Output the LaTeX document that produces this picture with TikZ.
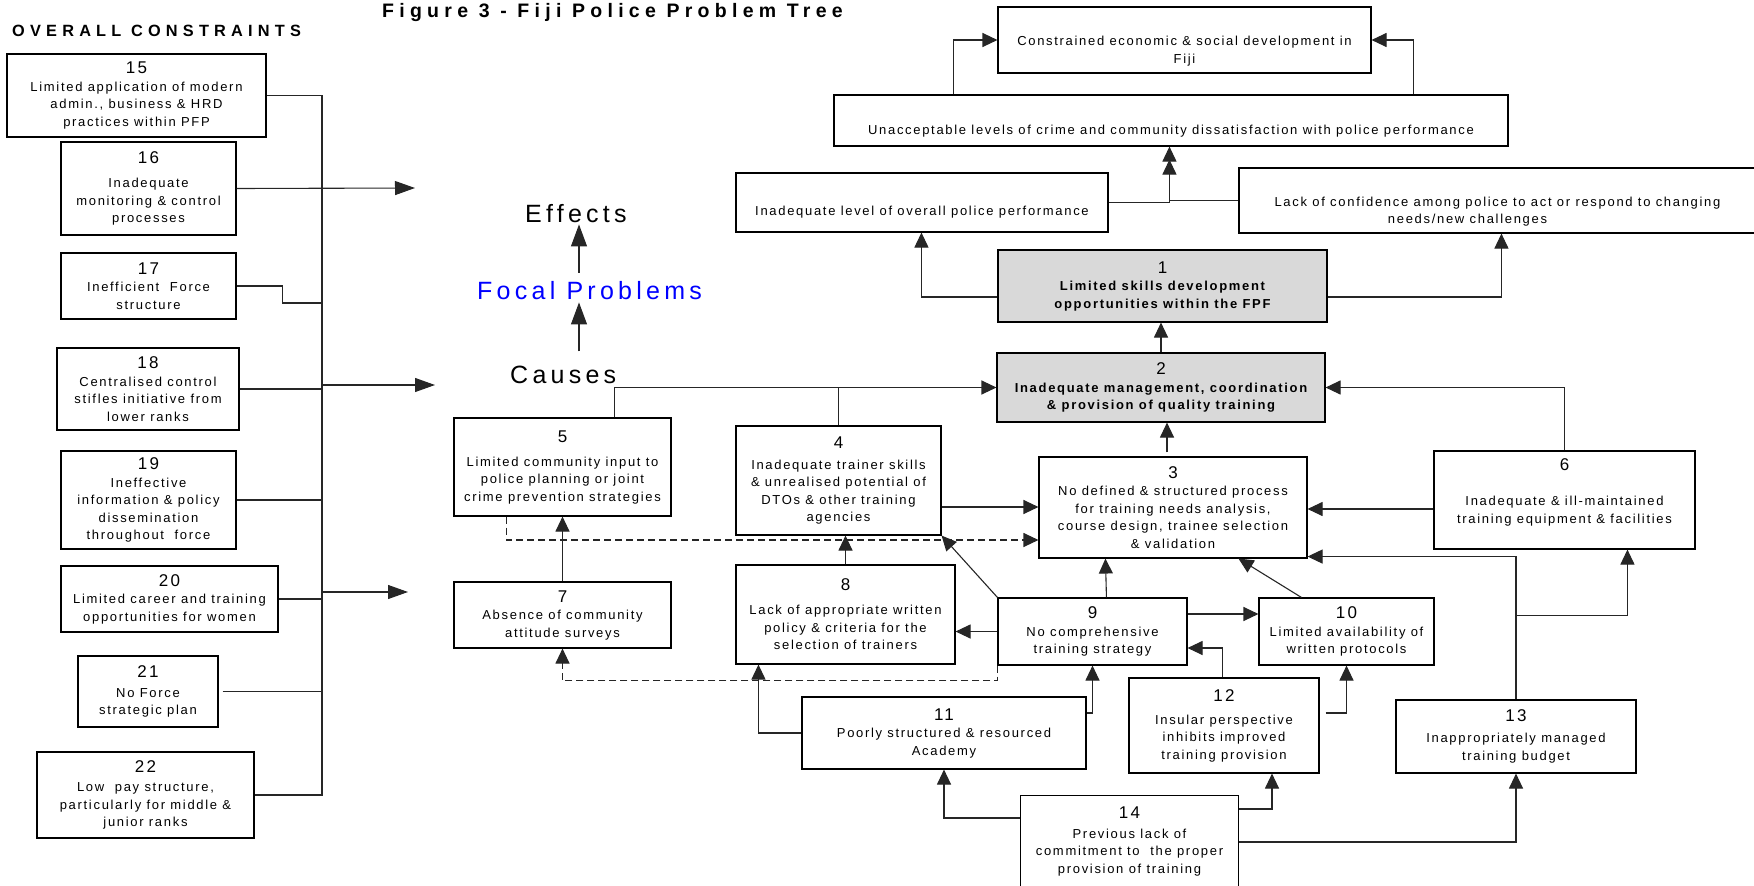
\documentclass[tikz,border=0pt]{standalone}
\usepackage{fontspec}
\setmainfont{Liberation Sans}[LetterSpace=13]
\newfontfamily\titlefont{Liberation Sans}[LetterSpace=27]
\newfontfamily\ocfont{Liberation Sans}[LetterSpace=32]
\newfontfamily\lblfont{Liberation Sans}[LetterSpace=17]
\usetikzlibrary{arrows.meta,calc}
\newcommand\nm[1]{{\fontsize{17}{17.5}\selectfont #1}}
\newcommand\bx[7][]{\node[box,#1,minimum width={(#5-#3)*1pt},minimum height={(#6-#4)*1pt}] (#2) at ({(#3+#5)/2},{(#4+#6)/2}) {#7};}
\tikzset{
  box/.style={draw=black, line width=1.1pt, inner sep=0pt, align=center, font=\fontsize{13}{17.5}\selectfont},
  focal/.style={fill=black!15},
  ln/.style={line width=1.1pt, draw=black!85},
  arr/.style={ln, -{Triangle[length=15pt,width=14pt]}},
  larr/.style={ln, -{Triangle[length=20pt,width=14pt]}},
  bigarr/.style={ln, -{Triangle[length=22pt,width=16pt]}},
  darr/.style={arr, dash pattern=on 7pt off 4pt},
  lbl/.style={anchor=base west, inner sep=0pt, font=\lblfont\fontsize{25}{26}\selectfont}
}
\begin{document}
\begin{tikzpicture}[x=1pt,y=-1pt]
\useasboundingbox (0,0) rectangle (1754,886);
% titles
\node[anchor=base west,inner sep=0pt,font=\titlefont\bfseries\fontsize{19.5}{20}\selectfont] (title) at (382,17) {Figure 3 - Fiji Police Problem Tree};
\node[anchor=base west,inner sep=0pt,font=\ocfont\bfseries\fontsize{16.3}{17}\selectfont] (oc) at (12,36.7) {OVERALL CONSTRAINTS};
\node[lbl] (effects) at (525,222) {Effects};
\node[lbl,text=blue] (focalp) at (477,299) {Focal Problems};
\node[lbl] (causes) at (510,383) {Causes};
\coordinate (arrx) at (579,0);
\draw[bigarr] ([yshift=8pt]focalp.north -| arrx) -- ([yshift=-2pt]effects.south -| arrx);
\draw[bigarr] ([yshift=14pt]causes.north -| arrx) -- ([yshift=-3pt]focalp.south -| arrx);
% left constraints
\bx{b15}{7}{54}{266}{137}{\nm{15}\\Limited application of modern\\admin., business \& HRD\\practices within PFP}
\bx{b16}{61}{142}{236}{235}{\nm{16}\\[6.5pt]Inadequate\\monitoring \& control\\processes}
\bx{b17}{61}{253}{236}{319}{\nm{17}\\Inefficient\ \ Force\\structure}
\bx{b18}{57}{348}{239}{430}{\nm{18}\\Centralised control\\stifles initiative from\\lower ranks}
\bx{b19}{61}{451}{236}{549}{\nm{19}\\Ineffective\\information \& policy\\dissemination\\throughout\ \ force}
\bx{b20}{61}{566}{278}{632}{\nm{20}\\Limited career and training\\opportunities for women}
\bx{b21}{78}{656}{218}{727}{\nm{21}\\[2.5pt]No Force\\strategic plan}
\bx{b22}{37}{752}{254}{838}{\nm{22}\\[1.5pt]Low\ \ pay structure,\\particularly for middle \&\\junior ranks}
\coordinate (bus) at (322,795);
\draw[ln] (b15.east) -| (bus) -- (b22.east);
\draw[ln] (b17.east) -- ([xshift=46pt]b17.east) |- ([yshift=-17pt]b17.east -| bus);
\draw[ln] (b18.east) -- (b18.east -| bus);
\draw[ln] (b19.east) -- (b19.east -| bus);
\draw[ln] (b20.east) -- (b20.east -| bus);
\draw[ln] ([xshift=4pt]b21.east) -- (b21.east -| bus);
\coordinate (t16) at (415,188);
\draw[larr] (b16.east) -- (t16);
\coordinate (s18) at (322,385); \coordinate (t18) at (435,385);
\draw[larr] (s18) -- (t18);
\coordinate (s20) at (322,592); \coordinate (t20) at (408,592);
\draw[larr] (s20) -- (t20);
% effects
\bx{top}{998}{7}{1371}{73}{\mbox{}\\[14pt]Constrained economic \& social development in\\Fiji}
\bx{unacc}{834}{95}{1508}{146}{\mbox{}\\[14pt]Unacceptable levels of crime and community dissatisfaction with police performance}
\bx{inlev}{736}{173}{1108}{232}{\mbox{}\\[12pt]Inadequate level of overall police performance}
\bx{lack}{1239}{168}{1756}{233}{\mbox{}\\[14pt]Lack of confidence among police to act or respond to changing\\needs/new challenges\hspace*{60pt}}
% focal problems
\bx[focal]{n1}{998}{250}{1327}{322}{\nm{1}\\\bfseries Limited skills development\\\bfseries opportunities within the FPF}
\bx[focal]{n2}{997}{353}{1325}{422}{\nm{2}\\\bfseries Inadequate management, coordination\\\bfseries \& provision of quality training}
% causes
\bx{n3}{1039}{457}{1307}{558}{\nm{3}\\No defined \& structured process\\for training needs analysis,\\course design, trainee selection\\\& validation}
\bx{n4}{736}{426}{941}{535}{\nm{4}\\[3.5pt]Inadequate trainer skills\\\& unrealised potential of\\DTOs \& other training\\agencies}
\bx{n5}{454}{418}{671}{516}{\nm{5}\\[6.5pt]Limited community input to\\police planning or joint\\crime prevention strategies}
\bx{n6}{1434}{451}{1695}{549}{\nm{6}\\[17.5pt]Inadequate \& ill-maintained\\training equipment \& facilities\\\mbox{}}
\bx{n7}{454}{582}{671}{648}{\nm{7}\\Absence of community\\attitude surveys}
\bx{n8}{736}{565}{955}{664}{\nm{8}\\[6.5pt]Lack of appropriate written\\policy \& criteria for the\\selection of trainers}
\bx{n9}{998}{598}{1187}{665}{\nm{9}\\No comprehensive\\training strategy}
\bx{n10}{1259}{598}{1434}{665}{\nm{10}\\Limited availability of\\written protocols}
\bx{n11}{802}{697}{1086}{769}{\nm{11}\\Poorly structured \& resourced\\Academy}
\bx{n12}{1129}{678}{1319}{773}{\nm{12}\\[5.5pt]Insular perspective\\inhibits improved\\training provision}
\bx{n13}{1396}{700}{1636}{773}{\nm{13}\\[3.5pt]Inappropriately managed\\training budget}
\bx[draw=none]{n14}{1021}{796}{1238}{886}{\nm{14}\\[2.5pt]Previous lack of\\commitment to\ \ the proper\\provision of training}
\draw[line width=1.1pt] (n14.south west) -- (n14.north west) -- (n14.north east) -- (n14.south east);
% connectors
\draw[arr] ([xshift=120pt]unacc.north west) |- (top.west);
\draw[arr] ([xshift=-95pt]unacc.north east) |- (top.east);
\draw[arr] (inlev.east) -| ([xshift=336pt]unacc.south west);
\draw[arr] (lack.west) -| ([xshift=336pt,yshift=-13pt]unacc.south west);
\draw[arr] ([yshift=-11pt]n1.west) -| ([xshift=186pt]inlev.south west);
\draw[arr] ([yshift=-11pt]n1.east) -| ([xshift=263pt]lack.south west);
\draw[arr] (n2.north) -- (n2.north |- n1.south);
\draw[arr] ([xshift=-6pt,yshift=4pt]n3.north) -- ([xshift=-6pt]n3.north |- n2.south);
\draw[arr] ([xshift=161pt]n5.north west) |- (n2.west);
\draw[ln] (n4.north) -- (n4.north |- n2.west);
\draw[arr] (n6.north) |- (n2.east);
\draw[arr] ([yshift=-26.5pt]n4.east) -- ([yshift=-26.5pt]n4.east -| n3.west);
\draw[arr] ([yshift=-9pt]n6.west) -- ([yshift=-9pt]n6.west -| n3.east);
\draw[darr] ([xshift=53pt]n5.south west) |- ([yshift=-32.5pt]n3.west);
\draw[arr] (n7.north) -- (n5.south);
\draw[arr] (n8.north) -- (n8.north |- n4.south);
\draw[arr] (n9.west) -- (n9.west -| n8.east);
\draw[arr] (n9.north west) -- (n4.south east);
\draw[darr] (n9.south west) -- ([yshift=-15pt]n9.south west) -| (n7.south);
\draw[arr] ([xshift=109pt]n9.north west) -- ([xshift=67pt]n3.south west);
\draw[arr] ([xshift=43pt]n10.north west) -- ([xshift=200pt]n3.south west);
\draw[arr] ([yshift=17.5pt]n9.east) -- ([yshift=17.5pt]n9.east -| n10.west);
\draw[arr] ([xshift=94pt]n12.north west) |- ([yshift=-16.5pt]n9.east);
\draw[arr] ([xshift=6pt,yshift=12.5pt]n12.east) -| (n10.south);
\draw[arr] ([yshift=20pt]n11.east) -| (n9.south);
\draw[arr] (n11.west) -| ([xshift=23pt]n8.south west);
\draw[arr] ([yshift=23pt]n14.west) -| (n11.south);
\draw[arr] ([yshift=32pt]n14.east) -| ([xshift=48pt]n12.south);
\draw[arr] ([yshift=-1pt]n14.east) -| (n13.south);
\draw[arr] (n13.north) |- ([yshift=2pt]n3.south east);
\draw[arr] ([yshift=84pt]n13.north) -| ([xshift=194pt]n6.south west);
\end{tikzpicture}
\end{document}
